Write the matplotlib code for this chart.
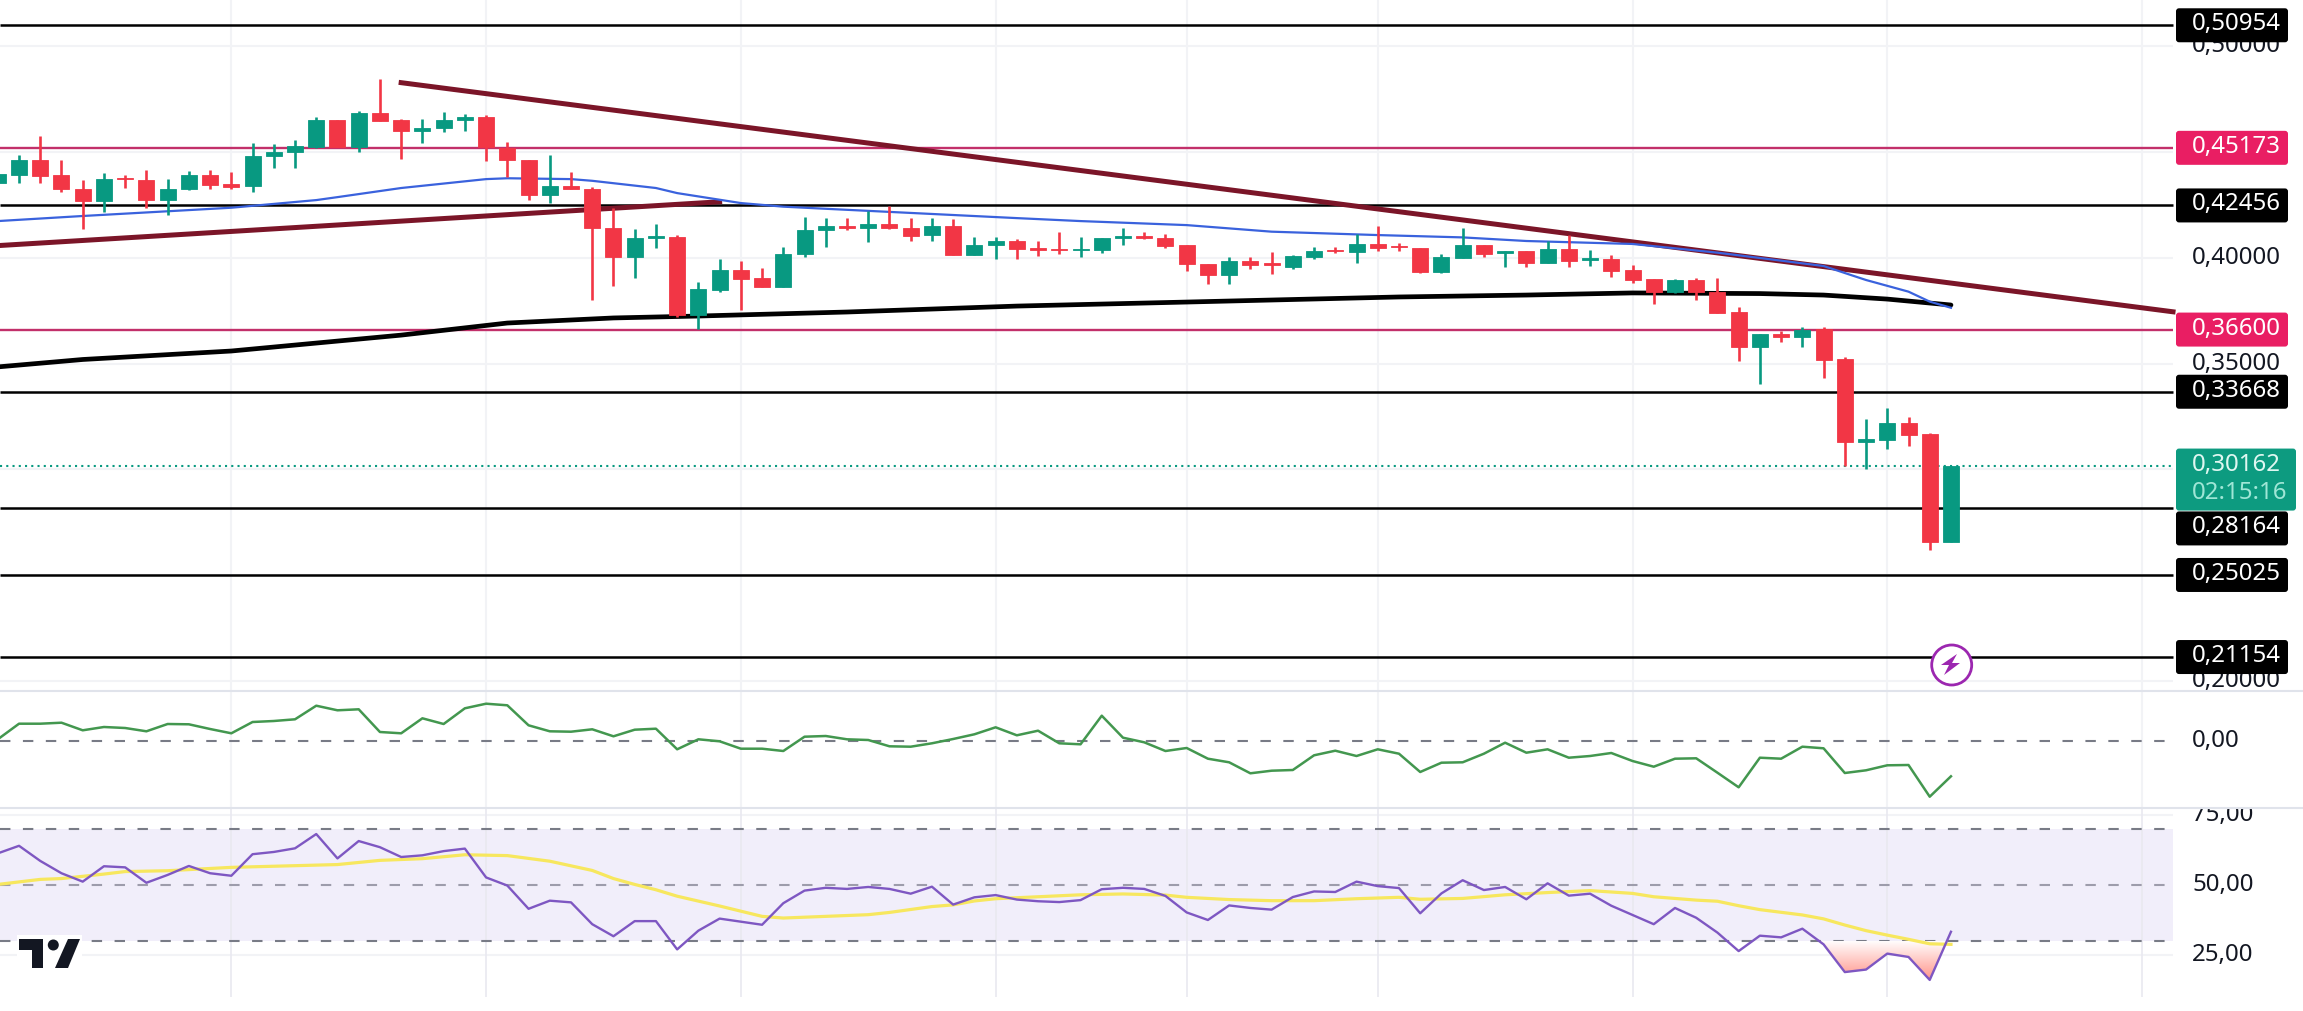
import numpy as np
import matplotlib
matplotlib.use('Agg')
from matplotlib import pyplot as plt
from matplotlib.patches import FancyBboxPatch, Polygon, Circle, Rectangle

plt.rcParams['font.family'] = ['Noto Sans', 'DejaVu Sans']

# daily candles
opens = [.4350,.4391,.4460,.4388,.4322,.4265,.4377,.4364,.4273,.4322,.4388,.4345,.4336,.4477,.4496,.4523,.4649,.4523,.4682,.4647,
         .4595,.4609,.4647,.4661,.4515,.4460,.4293,.4336,.4322,.4137,.4004,.4092,.4097,.3730,.3848,.3939,.3902,.3862,.4018,.4128,
         .4149,.4137,.4156,.4137,.4105,.4147,.4013,.4057,.4076,.4043,.4039,.4034,.4034,.4092,.4100,.4090,.4057,.3968,.3919,.3982,
         .3973,.3957,.4004,.4035,.4024,.4062,.4054,.4043,.3933,.3999,.4057,.4023,.4029,.3976,.4038,.3988,.3991,.3939,.3897,.3836,
         .3894,.3839,.3741,.3579,.3638,.3625,.3661,.3520,.3128,.3141,.3218,.3166,.2660]
highs = [.4394,.4484,.4573,.4460,.4366,.4397,.4389,.4413,.4369,.4408,.4413,.4402,.4539,.4535,.4553,.4661,.4649,.4689,.4840,.4655,
         .4652,.4685,.4677,.4671,.4543,.4460,.4483,.4403,.4331,.4232,.4133,.4156,.4105,.3883,.3991,.3982,.3949,.4051,.4189,.4185,
         .4185,.4218,.4243,.4185,.4185,.4180,.4095,.4095,.4086,.4078,.4119,.4095,.4090,.4138,.4119,.4109,.4057,.3968,.4001,.4001,
         .4024,.4010,.4048,.4048,.4109,.4149,.4067,.4045,.4015,.4138,.4057,.4032,.4029,.4079,.4106,.4035,.4013,.3963,.3897,.3897,
         .3902,.3903,.3765,.3638,.3655,.3671,.3674,.3532,.3238,.3289,.3246,.3171,.3017]
lows = [.4350,.4350,.4350,.4311,.4134,.4216,.4329,.4232,.4199,.4317,.4322,.4322,.4307,.4421,.4424,.4515,.4520,.4496,.4645,.4463,
        .4542,.4590,.4595,.4454,.4378,.4271,.4256,.4323,.3800,.3866,.3903,.4046,.3721,.3661,.3839,.3752,.3862,.3862,.4004,.4049,
        .4130,.4072,.4133,.4079,.4079,.4013,.4013,.3991,.3994,.4009,.4018,.4001,.4023,.4061,.4086,.4046,.3938,.3877,.3877,.3944,
        .3921,.3944,.3995,.4020,.3973,.4032,.4029,.3925,.3928,.3999,.4001,.3957,.3957,.3976,.3957,.3960,.3910,.3881,.3779,.3831,
        .3800,.3740,.3513,.3403,.3603,.3579,.3433,.3017,.3001,.3098,.3111,.2620,.2660]
closes = [.4394,.4460,.4386,.4322,.4265,.4369,.4369,.4273,.4322,.4388,.4344,.4334,.4477,.4496,.4524,.4649,.4520,.4682,.4645,.4595,
          .4609,.4647,.4661,.4520,.4458,.4295,.4336,.4325,.4137,.4004,.4090,.4101,.3730,.3851,.3939,.3900,.3862,.4018,.4128,.4147,
          .4137,.4156,.4137,.4103,.4147,.4013,.4057,.4076,.4042,.4034,.4034,.4039,.4090,.4100,.4094,.4056,.3968,.3919,.3982,.3966,
          .3966,.4006,.4029,.4029,.4062,.4046,.4048,.3933,.4001,.4057,.4018,.4029,.3976,.4038,.3985,.3996,.3938,.3895,.3836,.3894,
          .3839,.3740,.3579,.3638,.3627,.3658,.3518,.3128,.3142,.3218,.3164,.2660,.3016]

# moving averages, taken at the candles where they bend
ma200_idx = [0,4,11,19,24,29,33,40,48,56,66,72,77,83,86,89,92]
ma200_val = [.3484,.3519,.3559,.3634,.3691,.3715,.3724,.3743,.3771,.3790,.3814,.3823,.3833,.3830,.3823,.3804,.3776]
ma50_idx = [0,4,11,15,16,19,23,24,27,28,31,32,35,37,39,48,51,56,60,65,69,72,77,81,86,88,90,91,92]
ma50_val = [.4172,.4196,.4235,.4271,.4285,.4328,.4370,.4374,.4370,.4362,.4328,.4304,.4257,.4240,.4230,.4186,.4172,.4153,.4122,
            .4106,.4095,.4078,.4064,.4023,.3960,.3894,.3839,.3792,.3763]

# drawn trend lines
trend_down_idx = [19,102.46]
trend_down_val = [.4825,.3744]
trend_up_idx = [-0.2,34]
trend_up_val = [.4055,.4263]

black_levels = [.50954,.42456,.33668,.28164,.25025,.21154]
pink_levels = [.45173,.36600]
last_price = .30162
countdown = '02:15:16'
price_ticks = [.50,.45,.40,.35,.30,.25,.20]
# the other tick labels are covered by the level badges
price_labels = [.50,.40,.35,.20]

# lower panes
macd = [1.7,17.3,17.3,18.3,10.7,14,13,9.7,17,16.7,12,7.7,19,20,21.7,35.3,30.7,31.7,9,7.7,22.7,17,32.7,37.3,35.7,15.7,9.7,9.3,11.7,4.7,
        11.3,12.3,-8.3,1.7,-.3,-7.7,-7.7,-10,4.3,5,1.7,1,-5.3,-5.7,-2.3,2,6.7,13.7,5.7,10.3,-2.3,-3.3,25.3,3.3,-1.3,-10,-7,-17.7,-21.3,-32.3,
        -29.7,-29,-14.3,-9.7,-15,-8.3,-12.7,-31,-21.7,-21.3,-12.7,-1.7,-11.7,-8.3,-16.7,-15,-12,-20,-25.7,-17.7,-17.3,-31.7,-46.3,-16.7,-17.7,
        -5.7,-7.3,-32,-29.3,-24.3,-24,-55.7,-35.3]
macd = np.array(macd)/1000.0
rsi = [61.3,64.0,58.6,54.2,51.2,56.7,56.3,50.8,53.6,56.8,54.2,53.3,61.0,61.8,63.1,68.2,59.5,65.7,63.5,60.0,60.6,62.1,63.0,52.7,49.8,41.5,
       44.4,43.8,36.0,31.7,37.1,37.1,27.0,33.7,38.0,36.9,35.8,43.5,48.0,49.0,48.6,49.3,48.6,46.9,49.4,43.0,45.6,46.4,44.8,44.2,43.9,44.6,
       48.5,49.0,48.6,46.1,40.2,37.5,42.7,41.8,41.2,45.7,47.7,47.5,51.2,49.6,48.9,39.9,47.0,51.7,48.2,49.3,44.9,50.6,46.2,46.9,42.6,39.3,
       36.0,41.8,38.3,33.0,26.4,31.9,31.3,34.4,28.8,18.9,19.8,25.5,24.3,16.1,33.3]
rsi_ma_idx = [0,2,3,5,6,8,11,14,16,18,20,22,24,26,28,29,30,31,32,34,36,37,39,41,42,44,45,46,47,49,51,53,55,56,58,60,62,64,66,67,69,71,
              73,75,77,78,80,81,82,83,85,86,87,88,89,90,91,92]
rsi_ma = [50.2,52.0,52.3,53.9,54.8,55.1,56.3,56.9,57.3,58.8,59.4,60.8,60.5,58.5,55.2,52.3,50.2,48.3,46.0,42.5,38.8,38.2,38.8,39.4,40.2,
          42.3,42.9,44.3,45.1,45.8,46.5,46.8,46.4,45.6,44.8,44.4,44.4,45.1,45.6,44.9,45.2,46.5,47.3,48.0,47.0,45.8,44.6,44.2,42.6,41.2,39.3,
          37.9,35.7,33.7,32.1,30.6,29.0,28.8]
rsi_ticks = [75,50,25]
grid_idx = [11,23,35,47,56,65,77,89,101]

GREEN = '#089981'
RED = '#f23645'
PINK = '#c2306a'
DASH = '#787b86'
GRID = '#f2f3f6'
FS = 17.3
W, H = 2303, 1011

def k(px):
    # candle number at a pixel column
    return (px+2.2)/21.23

def py(p):
    # pixel row of a price
    return 45.5+(0.5-p)*2120

def fmt(v, n=5):
    return ('%.*f' % (n, v)).replace('.', ',')

fig = plt.figure(figsize=(W/100.0, H/100.0), dpi=100, facecolor='white')
ax = fig.add_axes([0, (H-691.0)/H, 1, 691.0/H])
ax_m = fig.add_axes([0, (H-808.0)/H, 1, 117.0/H])
ax_r = fig.add_axes([0, 0, 1, (H-808.0)/H])
xr = k(2173)

idx = np.arange(len(closes))
o, h, l, c = map(np.array, (opens, highs, lows, closes))
cols = [GREEN if c[i] >= o[i] else RED for i in idx]

# price pane
ax.hlines(price_ticks, k(0), xr, color=GRID, lw=1.5, zorder=1)
ax.vlines(grid_idx, .1955, .5215, color=GRID, lw=1.5, zorder=1)
ax.hlines(black_levels, k(0), xr, color='black', lw=1.8, zorder=2)
ax.hlines(pink_levels, k(0), xr, color=PINK, lw=1.7, zorder=2)
ax.plot([k(0), xr], [last_price, last_price], color=GREEN, lw=1.5, ls=(0, (1, 2)), zorder=2)
ax.plot(ma200_idx, ma200_val, color='black', lw=3.4, zorder=3, solid_capstyle='round')
ax.plot(trend_down_idx, trend_down_val, color='#7b1528', lw=3.6, zorder=3)
ax.plot(trend_up_idx, trend_up_val, color='#7b1528', lw=3.6, zorder=3)
ax.plot(ma50_idx, ma50_val, color='#3a62dd', lw=1.6, zorder=4)
ax.vlines(idx, l, h, color=cols, lw=1.9, zorder=5)
ax.bar(idx, np.abs(c-o), bottom=np.minimum(o, c), width=16/21.23, color=cols, edgecolor=cols, lw=.6, zorder=6)
for p in price_labels:
    ax.text(k(2192), p, fmt(p), fontsize=FS, color='#131722', ha='left', va='center', clip_on=True, zorder=7)
ax.set_xlim(k(0), k(W))
ax.set_ylim(.1955, .5215)
ax.axis('off')

# macd pane
ax_m.vlines(grid_idx, -.067, .050, color=GRID, lw=1.5, zorder=1)
ax_m.plot([k(0), xr], [0, 0], color=DASH, lw=1.5, ls=(0, (5, 6)), zorder=2)
ax_m.plot(idx, macd, color='#43974f', lw=1.8, zorder=3)
ax_m.text(k(2192), 0, '0,00', fontsize=FS, color='#131722', ha='left', va='center')
ax_m.set_xlim(k(0), k(W))
ax_m.set_ylim(-.067, .050)
ax_m.axis('off')

# rsi pane
ax_r.add_patch(Rectangle((k(0), 30), xr-k(0), 40, color='#f1eefa', lw=0, zorder=1))
ax_r.hlines([25, 75], k(0), xr, color=GRID, lw=1.5, zorder=1)
ax_r.vlines(grid_idx, 10, 77.5, color='#e9e9f0', lw=1.2, zorder=2)
for v, col in ((70, DASH), (50, '#9d9cab'), (30, DASH)):
    ax_r.plot([k(0), xr], [v, v], color=col, lw=1.5, ls=(0, (5, 6)), zorder=3)
rsi_arr = np.array(rsi)
# oversold gradient under the last leg
fb = ax_r.fill_between(idx, rsi_arr, 30, where=(rsi_arr < 30) & (idx >= 85), interpolate=True, color='none')
grad = np.linspace(0, 1, 64).reshape(-1, 1)
rgb = np.ones((64, 1, 3))
rgb[:, :, 1] = 1-grad*.42
rgb[:, :, 2] = 1-grad*.46
im = ax_r.imshow(rgb, extent=[80, 93, 16, 30], origin='upper', aspect='auto', zorder=3)
im.set_clip_path(fb.get_paths()[0], ax_r.transData)
ax_r.plot(rsi_ma_idx, rsi_ma, color='#f7e75e', lw=2.3, zorder=4)
ax_r.plot(idx, rsi_arr, color='#7e57c2', lw=1.7, zorder=5)
for v in rsi_ticks:
    ax_r.text(k(2192), v, fmt(v, 2), fontsize=FS, color='#131722', ha='left', va='center', clip_on=True)
ax_r.set_xlim(k(0), k(W))
ax_r.set_ylim(5, 77.5)
ax_r.axis('off')

# overlay in pixels: pane borders, badges, logo
ov = fig.add_axes([0, 0, 1, 1])
ov.set_xlim(0, W)
ov.set_ylim(H, 0)
ov.axis('off')
ov.hlines([691, 808], 0, W, color='#e0e3eb', lw=1.5)

def badge(y, txt, col):
    ov.add_patch(FancyBboxPatch((2176, y-17), 112, 34, boxstyle='round,pad=0,rounding_size=3', fc=col, ec='none', zorder=3))
    ov.text(2192, y-1, txt, fontsize=FS, color='white', ha='left', va='center', zorder=4)

for p in black_levels:
    if p != .28164:
        badge(py(p), fmt(p), 'black')
for p in pink_levels:
    badge(py(p), fmt(p), '#e91e63')
# this badge sits pushed down under the last price badge
badge(py(.28164)+20, fmt(.28164), 'black')
y0 = py(last_price)
ov.add_patch(FancyBboxPatch((2176, y0-17.5), 120, 62, boxstyle='round,pad=0,rounding_size=3', fc='#0d9b80', ec='none', zorder=5))
ov.text(2192, y0-1, fmt(last_price), fontsize=FS, color='#dff7f1', ha='left', va='center', zorder=6)
ov.text(2192, y0+27, countdown, fontsize=FS, color='#9fe6d6', ha='left', va='center', zorder=6)

# lightning marker
ov.add_patch(Circle((1951.7, 665), 20, fc='white', ec='#9c27b0', lw=2, zorder=5))
ov.add_patch(Polygon([(1957,654),(1941,665),(1949,665),(1944,675),(1960,663),(1952,663)], fc='#9c27b0', ec='none', zorder=6))

# tradingview logo
ov.add_patch(Rectangle((17, 935), 65, 37, fc='white', ec='none', zorder=5))
ov.add_patch(Polygon([(19,939),(43,939),(43,968),(32,968),(32,950),(19,950)], fc='#131722', ec='none', zorder=6))
ov.add_patch(Circle((53.3, 945), 5.5, fc='#131722', ec='none', zorder=6))
ov.add_patch(Polygon([(68,939),(80,939),(68,968),(55,968)], fc='#131722', ec='none', zorder=6))

fig.savefig('out.png', dpi=100, facecolor='white')
